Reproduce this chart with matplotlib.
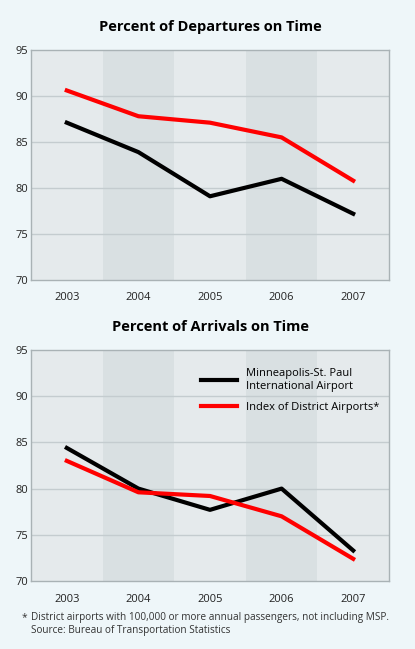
import matplotlib
matplotlib.use("Agg")
import matplotlib.pyplot as plt

years = [2003, 2004, 2005, 2006, 2007]
dep_msp = [87.1, 83.9, 79.1, 81.0, 77.2]
dep_index = [90.6, 87.8, 87.1, 85.5, 80.8]
arr_msp = [84.4, 80.0, 77.7, 80.0, 73.3]
arr_index = [83.0, 79.6, 79.2, 77.0, 72.4]
yticks = [70, 75, 80, 85, 90, 95]

bg = "#eef6f9"
panel = "#e5eaec"
band = "#d9e0e2"

plt.rcParams['font.family'] = ['Open Sans', 'DejaVu Sans']

fig = plt.figure(figsize=(4.15, 6.49), dpi=100, facecolor=bg)

def draw(ax, msp, idx, title, legend=False):
    ax.set_facecolor(panel)
    for y in (2004, 2006):
        ax.axvspan(y - 0.5, y + 0.5, color=band, zorder=0, lw=0)
    for t in yticks[1:-1]:
        ax.axhline(t, color="#c4cccf", lw=1, zorder=1)
    ax.plot(years, msp, color="black", lw=3, zorder=3,
            label="Minneapolis-St. Paul\nInternational Airport")
    ax.plot(years, idx, color="#ff0000", lw=3, zorder=3,
            label="Index of District Airports*")
    ax.set_xlim(2002.5, 2007.5)
    ax.set_ylim(70, 95)
    ax.set_yticks(yticks)
    ax.set_xticks(years)
    ax.tick_params(length=0, labelsize=8, colors="#222222")
    ax.tick_params(axis="x", pad=9)
    ax.tick_params(axis="y", pad=2)
    for s in ax.spines.values():
        s.set_color("#a9b2b5")
        s.set_linewidth(1)
    ax.set_title(title, fontsize=10.5, fontweight="bold", pad=14)
    if legend:
        ax.legend(loc="upper right", frameon=False, fontsize=8,
                  handlelength=3.2, labelspacing=0.9,
                  bbox_to_anchor=(1.0, 0.965))

ax1 = fig.add_axes([31 / 415, 1 - 280 / 649, 358 / 415, 230 / 649])
draw(ax1, dep_msp, dep_index, "Percent of Departures on Time")

ax2 = fig.add_axes([31 / 415, 1 - 581 / 649, 358 / 415, 231 / 649])
draw(ax2, arr_msp, arr_index, "Percent of Arrivals on Time", legend=True)

fig.text(22 / 415, 1 - 612 / 649, "*", fontsize=7.4, color="#333333", va="top")
fig.text(31 / 415, 1 - 612 / 649,
         "District airports with 100,000 or more annual passengers, not including MSP.\n"
         "Source: Bureau of Transportation Statistics",
         fontsize=7.2, color="#333333", va="top", linespacing=1.25)

fig.savefig("out.png", dpi=100, facecolor=bg)
